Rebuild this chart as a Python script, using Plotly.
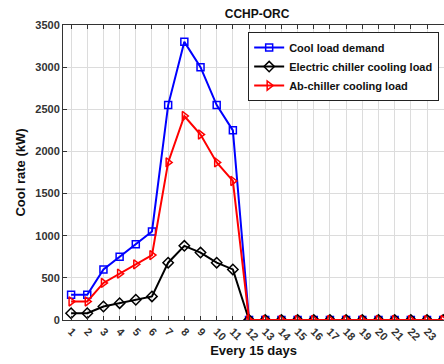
import plotly.graph_objects as go

days = list(range(1, 25))
tick_labels = [str(d) for d in days]
cool_demand = [300, 300, 600, 750, 900, 1050, 2550, 3300, 3000, 2550, 2250] + [0] * 13
electric_chiller = [80, 80, 160, 200, 240, 280, 680, 880, 800, 680, 600] + [0] * 13
ab_chiller = [220, 220, 440, 550, 660, 770, 1870, 2420, 2200, 1870, 1650] + [0] * 13

FONT = "Liberation Sans"

fig = go.Figure()
fig.add_trace(go.Scatter(
    x=days, y=cool_demand, mode="lines+markers", name="Cool load demand",
    line=dict(color="#0000ff", width=2),
    marker=dict(symbol="square-open", size=7, color="#0000ff", line=dict(width=1.5))))
fig.add_trace(go.Scatter(
    x=days, y=electric_chiller, mode="lines+markers", name="Electric chiller cooling load",
    line=dict(color="#000000", width=2),
    marker=dict(symbol="diamond-open", size=8, color="#000000", line=dict(width=1.5))))
fig.add_trace(go.Scatter(
    x=days, y=ab_chiller, mode="lines+markers", name="Ab-chiller cooling load",
    line=dict(color="#ff0000", width=2),
    marker=dict(symbol="triangle-right-open", size=8, color="#ff0000", line=dict(width=1.5))))

fig.update_layout(
    width=444, height=364,
    margin=dict(l=63, r=0, t=25, b=44),
    paper_bgcolor="white", plot_bgcolor="white",
    font=dict(family=FONT, size=11, color="#222222"),
    title=dict(text="<b>CCHP-ORC</b>", x=0.579, xanchor="center", y=0.962, yanchor="middle",
               font=dict(family=FONT, size=12, color="#111111")),
    showlegend=True,
    legend=dict(x=0.486, y=0.976, xanchor="left", yanchor="top",
                bgcolor="white", bordercolor="#222222", borderwidth=1,
                font=dict(family=FONT, size=11, color="#111111", weight="bold"),
                tracegroupgap=0, itemwidth=30),
)
fig.update_xaxes(
    range=[0.5, 24.05], tickmode="array", tickvals=days, ticktext=tick_labels,
    tickangle=45, ticks="inside", ticklen=4, tickcolor="#333333",
    showline=True, linecolor="#333333", linewidth=1, mirror="ticks",
    showgrid=True, gridcolor="#dcdcdc", gridwidth=1, zeroline=False,
    tickfont=dict(family=FONT, size=11, color="#333333", weight="bold"),
    title=dict(text="<b>Every 15 days</b>", font=dict(family=FONT, size=13, color="#111111"), standoff=2),
)
fig.update_yaxes(
    range=[0, 3500], tickvals=[0, 500, 1000, 1500, 2000, 2500, 3000, 3500],
    ticks="inside", ticklen=4, tickcolor="#333333",
    showline=True, linecolor="#333333", linewidth=1, mirror=False,
    showgrid=True, gridcolor="#dcdcdc", gridwidth=1, zeroline=False,
    tickfont=dict(family=FONT, size=11, color="#333333", weight="bold"),
    title=dict(text="<b>Cool rate (kW)</b>", font=dict(family=FONT, size=13, color="#111111"), standoff=6),
)

fig.write_html("out.html")
